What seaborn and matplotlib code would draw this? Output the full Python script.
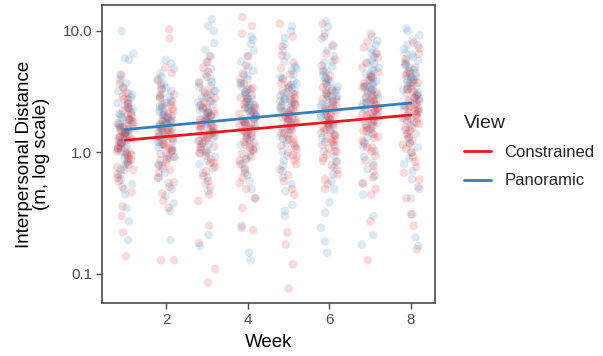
import numpy as np
import pandas as pd
import matplotlib
matplotlib.use("Agg")
import matplotlib.pyplot as plt
from matplotlib.lines import Line2D
import seaborn as sns

weeks = [1, 2, 3, 4, 5, 6, 7, 8]
views = ["Constrained", "Panoramic"]
colors = {"Constrained": "#E41A1C", "Panoramic": "#377EB8"}
y_ticks = [0.1, 1.0, 10.0]
y_tick_labels = ["0.1", "1.0", "10.0"]
x_ticks = [2, 4, 6, 8]

con_w1 = [0.14, 0.22, 0.30, 0.36, 0.47, 0.52, 0.58, 0.62, 0.66, 0.72, 0.76, 0.80, 0.84, 0.88, 0.93, 0.97, 1.02, 1.06, 1.10, 1.14, 1.2, 1.25, 1.28, 1.33, 1.38, 1.42, 1.48, 1.55, 1.62, 1.7, 1.78, 1.85, 1.95, 2.05, 2.2, 2.35, 2.5, 2.7, 2.9, 3.1, 3.4, 3.7, 4.3, 1.0,
          0.72, 0.87, 0.99, 1.09, 1.19, 1.28, 1.36, 1.45, 1.46, 1.54, 1.64, 1.74, 1.88, 2.06, 2.32, 2.75]
con_w2 = [0.13, 0.13, 0.35, 0.40, 0.46, 0.52, 0.57, 0.62, 0.68, 0.72, 0.78, 0.83, 0.88, 0.92, 0.97, 1.02, 1.08, 1.13, 1.18, 1.24, 1.30, 1.35, 1.40, 1.46, 1.52, 1.58, 1.66, 1.74, 1.82, 1.92, 2.02, 2.15, 2.3, 2.45, 2.6, 2.8, 3.0, 3.3, 3.6, 4.0, 4.5, 5.0, 8.7, 10.3,
          0.78, 0.93, 1.05, 1.16, 1.27, 1.36, 1.46, 1.55, 1.57, 1.64, 1.75, 1.86, 2.0, 2.2, 2.48, 2.95]
con_w3 = [0.085, 0.11, 0.18, 0.25, 0.40, 0.45, 0.52, 0.58, 0.64, 0.70, 0.76, 0.82, 0.88, 0.94, 1.0, 1.06, 1.12, 1.18, 1.25, 1.32, 1.40, 1.46, 1.52, 1.6, 1.68, 1.76, 1.85, 1.95, 2.05, 2.18, 2.3, 2.45, 2.6, 2.8, 3.0, 3.25, 3.5, 3.8, 4.2, 4.6, 5.0, 5.6, 6.2, 1.36,
          0.82, 0.99, 1.12, 1.24, 1.35, 1.45, 1.55, 1.65, 1.66, 1.75, 1.86, 1.98, 2.15, 2.34, 2.64, 3.1]
con_w4 = [0.23, 0.24, 0.35, 0.42, 0.5, 0.56, 0.62, 0.68, 0.74, 0.8, 0.86, 0.92, 0.98, 1.04, 1.1, 1.16, 1.22, 1.3, 1.38, 1.45, 1.52, 1.58, 1.65, 1.72, 1.8, 1.88, 1.98, 2.08, 2.2, 2.32, 2.45, 2.6, 2.78, 2.95, 3.15, 3.4, 3.7, 4.0, 4.5, 5.2, 6.2, 9.5, 11.0, 13.0,
          0.88, 1.06, 1.2, 1.33, 1.45, 1.56, 1.66, 1.77, 1.78, 1.88, 2.0, 2.12, 2.3, 2.51, 2.83, 3.36]
con_w5 = [0.076, 0.12, 0.175, 0.22, 0.45, 0.5, 0.58, 0.65, 0.72, 0.8, 0.86, 0.93, 1.0, 1.07, 1.14, 1.2, 1.28, 1.36, 1.44, 1.52, 1.6, 1.68, 1.76, 1.84, 1.93, 2.02, 2.12, 2.24, 2.36, 2.5, 2.65, 2.8, 3.0, 3.2, 3.45, 3.7, 4.0, 4.4, 4.9, 5.5, 6.3, 7.5, 9.0, 11.5,
          0.95, 1.14, 1.29, 1.43, 1.56, 1.67, 1.79, 1.9, 1.92, 2.01, 2.15, 2.28, 2.47, 2.7, 3.04, 3.6]
con_w6 = [0.5, 0.55, 0.6, 0.66, 0.72, 0.78, 0.84, 0.9, 0.96, 1.02, 1.08, 1.15, 1.22, 1.3, 1.38, 1.46, 1.54, 1.62, 1.7, 1.78, 1.86, 1.95, 2.05, 2.15, 2.25, 2.36, 2.48, 2.6, 2.75, 2.9, 3.05, 3.25, 3.45, 3.7, 4.0, 4.3, 4.7, 5.2, 5.8, 6.5, 7.5, 9.0, 11.5, 1.25,
          0.85, 1.02, 1.16, 1.28, 1.39, 1.5, 1.6, 1.7, 1.72, 1.8, 1.92, 2.04, 2.21, 2.41, 2.72, 3.23]
con_w7 = [0.13, 0.27, 0.45, 0.5, 0.56, 0.62, 0.7, 0.78, 0.86, 0.94, 1.02, 1.1, 1.18, 1.26, 1.34, 1.42, 1.5, 1.6, 1.7, 1.8, 1.9, 2.0, 2.1, 2.2, 2.32, 2.45, 2.58, 2.72, 2.88, 3.05, 3.25, 3.45, 3.7, 3.95, 4.25, 4.6, 5.0, 5.5, 6.0, 6.6, 7.3, 8.2, 9.5, 1.55,
          1.1, 1.32, 1.5, 1.65, 1.8, 1.94, 2.07, 2.2, 2.22, 2.33, 2.49, 2.64, 2.86, 3.12, 3.52, 4.18]
con_w8 = [0.16, 0.25, 0.31, 0.42, 0.52, 0.6, 0.68, 0.76, 0.84, 0.92, 1.0, 1.08, 1.16, 1.25, 1.34, 1.43, 1.52, 1.62, 1.72, 1.82, 1.93, 2.04, 2.15, 2.27, 2.4, 2.53, 2.67, 2.82, 2.98, 3.15, 3.33, 3.52, 3.75, 4.0, 4.3, 4.6, 5.0, 5.4, 5.9, 6.5, 7.2, 8.0, 1.88, 2.2,
          1.18, 1.41, 1.6, 1.76, 1.93, 2.07, 2.21, 2.35, 2.38, 2.49, 2.66, 2.82, 3.06, 3.34, 3.76, 4.47]

pan_w1 = [0.19, 0.27, 0.35, 0.45, 0.5, 0.55, 0.6, 0.66, 0.72, 0.78, 0.84, 0.9, 0.96, 1.02, 1.08, 1.14, 1.2, 1.26, 1.32, 1.38, 1.45, 1.52, 1.6, 1.68, 1.76, 1.85, 1.95, 2.05, 2.15, 2.27, 2.4, 2.55, 2.7, 2.85, 3.0, 3.2, 3.45, 3.7, 4.0, 4.4, 5.8, 6.0, 6.5, 10.0,
          0.8, 0.96, 1.09, 1.2, 1.31, 1.41, 1.5, 1.6, 1.62, 1.7, 1.81, 1.92, 2.08, 2.27, 2.56, 3.04]
pan_w2 = [0.19, 0.33, 0.38, 0.44, 0.5, 0.56, 0.62, 0.68, 0.74, 0.8, 0.86, 0.92, 0.98, 1.04, 1.1, 1.16, 1.22, 1.28, 1.34, 1.4, 1.47, 1.54, 1.62, 1.7, 1.78, 1.87, 1.96, 2.06, 2.17, 2.28, 2.4, 2.54, 2.68, 2.84, 3.0, 3.2, 3.4, 3.65, 3.9, 4.2, 4.5, 4.9, 5.4, 5.8,
          0.9, 1.08, 1.22, 1.35, 1.48, 1.58, 1.69, 1.8, 1.82, 1.91, 2.03, 2.16, 2.34, 2.56, 2.88, 3.42]
pan_w3 = [0.17, 0.21, 0.48, 0.55, 0.62, 0.68, 0.74, 0.8, 0.86, 0.92, 0.98, 1.04, 1.1, 1.17, 1.24, 1.32, 1.4, 1.48, 1.56, 1.64, 1.72, 1.8, 1.9, 2.0, 2.1, 2.22, 2.35, 2.5, 2.65, 2.82, 3.0, 3.2, 3.45, 3.7, 4.0, 4.4, 4.9, 5.5, 6.2, 7.0, 8.0, 10.0, 11.0, 12.5,
          1.0, 1.2, 1.36, 1.5, 1.64, 1.76, 1.88, 2.0, 2.02, 2.12, 2.26, 2.4, 2.6, 2.84, 3.2, 3.8]
pan_w4 = [0.13, 0.15, 0.25, 0.42, 0.5, 0.58, 0.65, 0.72, 0.8, 0.88, 0.95, 1.02, 1.1, 1.18, 1.26, 1.34, 1.42, 1.5, 1.6, 1.7, 1.8, 1.9, 2.0, 2.1, 2.22, 2.35, 2.48, 2.62, 2.78, 2.95, 3.12, 3.3, 3.5, 3.75, 4.0, 4.3, 4.7, 5.1, 5.6, 6.2, 6.9, 7.8, 8.5, 9.0,
          1.15, 1.38, 1.56, 1.73, 1.89, 2.02, 2.16, 2.3, 2.32, 2.44, 2.6, 2.76, 2.99, 3.27, 3.68, 4.37]
pan_w5 = [0.3, 0.33, 0.37, 0.48, 0.55, 0.62, 0.7, 0.78, 0.86, 0.94, 1.02, 1.1, 1.18, 1.27, 1.36, 1.45, 1.55, 1.65, 1.75, 1.86, 1.97, 2.08, 2.2, 2.33, 2.46, 2.6, 2.75, 2.9, 3.05, 3.22, 3.4, 3.6, 3.85, 4.1, 4.4, 4.75, 5.1, 5.6, 6.2, 6.9, 7.8, 8.8, 10.0, 11.0,
          1.3, 1.56, 1.77, 1.95, 2.13, 2.29, 2.44, 2.6, 2.63, 2.76, 2.94, 3.12, 3.38, 3.69, 4.16, 4.94]
pan_w6 = [0.15, 0.185, 0.24, 0.32, 0.39, 0.5, 0.58, 0.66, 0.75, 0.84, 0.93, 1.02, 1.12, 1.22, 1.32, 1.42, 1.52, 1.63, 1.74, 1.86, 1.98, 2.1, 2.23, 2.36, 2.5, 2.65, 2.8, 2.97, 3.15, 3.35, 3.55, 3.8, 4.05, 4.35, 4.7, 5.1, 5.6, 6.2, 6.9, 7.7, 8.6, 9.6, 10.8, 12.0,
          1.45, 1.74, 1.97, 2.18, 2.38, 2.55, 2.73, 2.9, 2.93, 3.07, 3.28, 3.48, 3.77, 4.12, 4.64, 5.51]
pan_w7 = [0.175, 0.21, 0.3, 0.45, 0.55, 0.64, 0.73, 0.82, 0.92, 1.02, 1.12, 1.22, 1.32, 1.43, 1.54, 1.65, 1.76, 1.88, 2.0, 2.12, 2.25, 2.38, 2.52, 2.66, 2.8, 2.96, 3.12, 3.3, 3.5, 3.7, 3.92, 4.15, 4.4, 4.7, 5.0, 5.35, 5.7, 6.1, 6.6, 7.1, 7.7, 8.3, 9.0, 2.6,
          1.7, 2.04, 2.31, 2.55, 2.79, 2.99, 3.2, 3.4, 3.43, 3.6, 3.84, 4.08, 4.42, 4.83, 5.44, 6.46]
pan_w8 = [0.17, 0.2, 0.31, 0.42, 0.5, 0.6, 0.7, 0.8, 0.9, 1.0, 1.1, 1.2, 1.3, 1.42, 1.54, 1.66, 1.78, 1.9, 2.02, 2.15, 2.3, 2.45, 2.6, 2.76, 2.92, 3.1, 3.3, 3.5, 3.7, 3.92, 4.15, 4.4, 4.7, 5.0, 5.3, 5.7, 6.1, 6.6, 7.1, 7.7, 8.4, 9.2, 10.0, 10.5,
          2.0, 2.4, 2.72, 3.0, 3.28, 3.52, 3.76, 4.0, 4.04, 4.24, 4.52, 4.8, 5.2, 5.68, 6.4, 7.6]

constrained = [con_w1, con_w2, con_w3, con_w4, con_w5, con_w6, con_w7, con_w8]
panoramic = [pan_w1, pan_w2, pan_w3, pan_w4, pan_w5, pan_w6, pan_w7, pan_w8]

# interleave rows so that colours mix within each week column
rows = []
for wk, cvals, pvals in zip(weeks, constrained, panoramic):
    order_c = cvals[::2] + cvals[1::2]
    order_p = pvals[1::2] + pvals[::2]
    for c, p in zip(order_c, order_p):
        rows.append((wk, "Constrained", c))
        rows.append((wk, "Panoramic", p))
df = pd.DataFrame(rows, columns=["Week", "View", "Distance"])
df["logD"] = np.log10(df["Distance"])

sns.set_theme(style="white")
plt.rcParams["font.family"] = ["Liberation Sans", "DejaVu Sans"]

fig = plt.figure(figsize=(6.03, 3.56), dpi=100)
ax = fig.add_axes([102 / 603, 1 - 303 / 356, (435 - 102) / 603, (303 - 5) / 356])

np.random.seed(3)
sns.stripplot(data=df, x="Week", y="logD", hue="View", palette=colors,
              native_scale=True, jitter=0.21, alpha=0.16, size=6.2,
              linewidth=0, legend=False, ax=ax, zorder=1)

for v in views:
    sub = df[df["View"] == v]
    sns.regplot(data=sub, x="Week", y="logD", scatter=False, ci=None,
                truncate=True, color=colors[v], line_kws={"lw": 2.0, "zorder": 3}, ax=ax)

ax.set_xlim(0.43, 8.59)
ax.set_ylim(-1.239, 1.214)
ax.set_xticks(x_ticks)
ax.set_xticklabels([str(t) for t in x_ticks])
ax.set_yticks(np.log10(y_ticks))
ax.set_yticklabels(y_tick_labels)
ax.set_xlabel("Week", fontsize=13.5, color="black", labelpad=5)
ax.set_ylabel("Interpersonal Distance\n(m, log scale)", fontsize=13.5, color="black",
              labelpad=9, linespacing=1.0)
ax.tick_params(axis="both", which="major", length=4, width=1.0, color="#4D4D4D",
               labelsize=11, labelcolor="#4D4D4D", pad=3, bottom=True, left=True)
for s in ax.spines.values():
    s.set_color("#4D4D4D")
    s.set_linewidth(1.2)
    s.set_visible(True)
ax.grid(False)

handles = [Line2D([0], [0], color=colors[v], lw=2.0) for v in views]
leg = fig.legend(handles, views, title="View", loc="upper left",
                 bbox_to_anchor=(0.745, 0.72), frameon=False,
                 fontsize=12, title_fontsize=14, handlelength=1.6,
                 handletextpad=0.8, labelspacing=0.8)
leg._legend_box.align = "left"

fig.savefig("out.png", dpi=100)
